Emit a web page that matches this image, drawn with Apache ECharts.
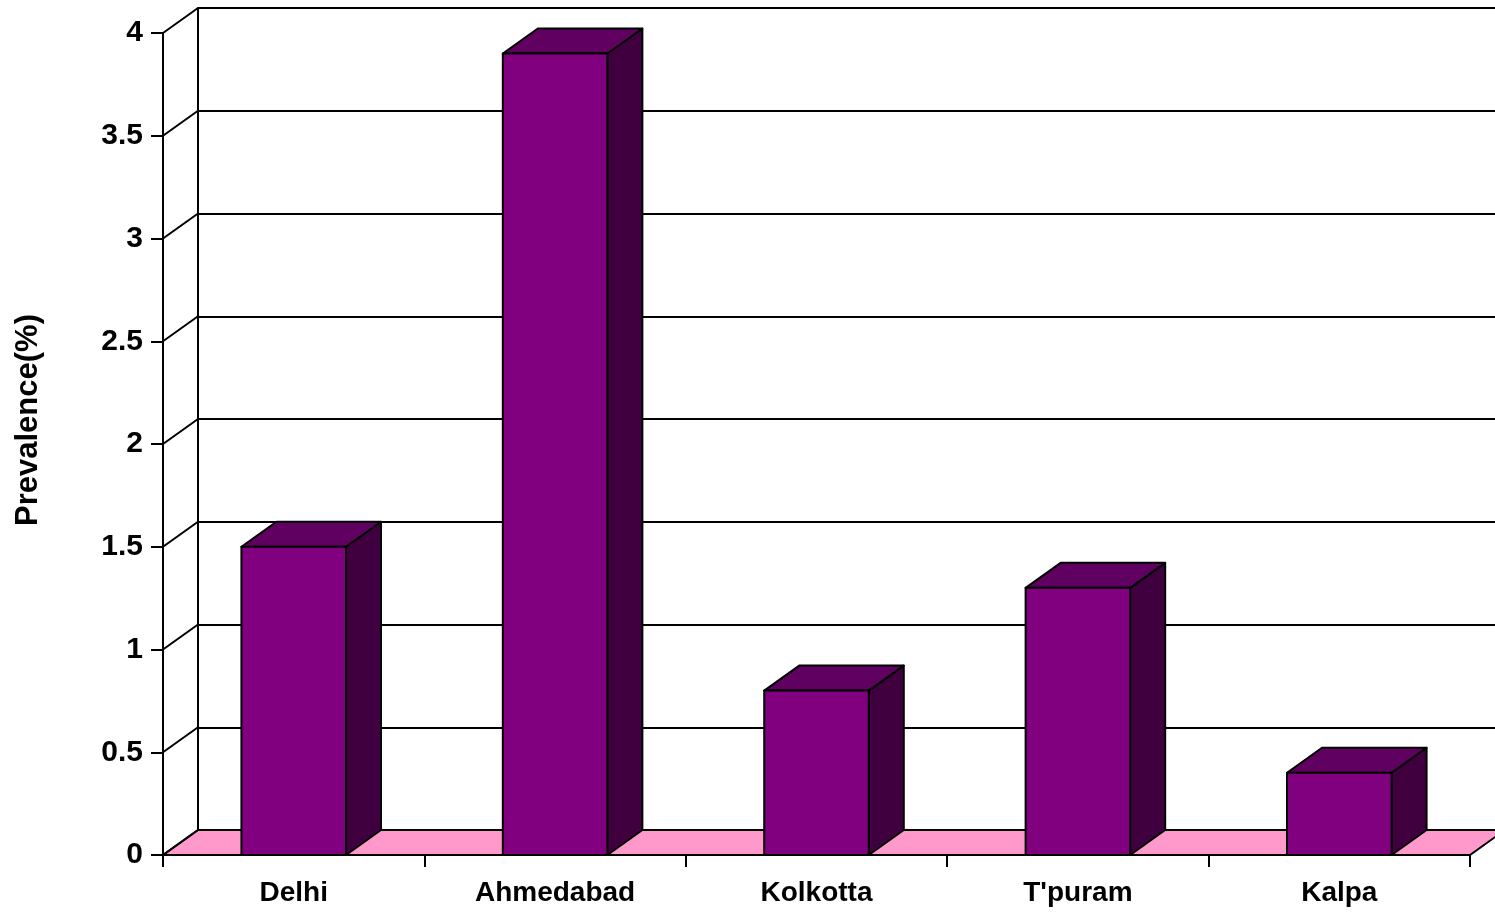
<!DOCTYPE html>
<html>
<head>
<meta charset="utf-8">
<script src="https://cdn.jsdelivr.net/npm/echarts@6/dist/echarts.min.js"></script>
<style>
html,body{margin:0;padding:0;background:#fff;}
#chart{width:1495px;height:914px;}
</style>
</head>
<body>
<div id="chart"></div>
<script>
const categories = ['Delhi', 'Ahmedabad', 'Kolkotta', "T'puram", 'Kalpa'];
const prevalence = [1.5, 3.9, 0.8, 1.3, 0.4];
const yTicks = [0, 0.5, 1, 1.5, 2, 2.5, 3, 3.5, 4];
const yName = 'Prevalence(%)';

const DX = 35, DY = -25;
const FONT = '"Liberation Sans", Arial, sans-serif';

const chart = echarts.init(document.getElementById('chart'), null, {renderer: 'canvas'});

const option = {
  backgroundColor: '#ffffff',
  animation: false,
  grid: [
    {left: 163, top: 33, width: 1307, height: 822},
    {left: 198, top: 8, width: 1307, height: 822}
  ],
  xAxis: [
    {
      type: 'category', gridIndex: 0, data: categories,
      axisLine: {show: true, lineStyle: {color: '#000', width: 2}},
      axisTick: {show: true, length: 12, lineStyle: {color: '#000', width: 2}},
      axisLabel: {color: '#000', fontFamily: FONT, fontWeight: 'bold', fontSize: 28, margin: 24},
      splitLine: {show: false}
    },
    {
      type: 'category', gridIndex: 1, data: categories, show: false
    }
  ],
  yAxis: [
    {
      type: 'value', gridIndex: 0, min: 0, max: 4, interval: 0.5,
      name: yName, nameLocation: 'middle', nameRotate: 90, nameGap: 119,
      nameTextStyle: {color: '#000', fontFamily: FONT, fontWeight: 'bold', fontSize: 31, padding: [0, 0, 0, 48]},
      axisLine: {show: true, lineStyle: {color: '#000', width: 2}},
      axisTick: {show: true, length: 12, lineStyle: {color: '#000', width: 2}},
      axisLabel: {color: '#000', fontFamily: FONT, fontWeight: 'bold', fontSize: 30, margin: 20},
      splitLine: {show: false}
    },
    {
      type: 'value', gridIndex: 1, min: 0, max: 4, interval: 0.5,
      axisLine: {show: true, lineStyle: {color: '#000', width: 2}},
      axisTick: {show: false},
      axisLabel: {show: false},
      splitLine: {show: true, lineStyle: {color: '#000', width: 2}}
    }
  ],
  series: [
    {
      // floor
      type: 'custom', xAxisIndex: 0, yAxisIndex: 0, z: 2, silent: true,
      data: [[0, 0]],
      encode: {x: 0, y: 1},
      renderItem: function (params, api) {
        const cs = params.coordSys;
        const y0 = api.coord([0, 0])[1];
        const x0 = cs.x, x1 = cs.x + cs.width;
        return {
          type: 'polygon',
          shape: {points: [[x0, y0], [x1, y0], [x1 + DX, y0 + DY], [x0 + DX, y0 + DY]]},
          style: {fill: '#FF99CC', stroke: '#000', lineWidth: 2}
        };
      }
    },
    {
      // side wall diagonals
      type: 'custom', xAxisIndex: 0, yAxisIndex: 0, z: 3, silent: true,
      data: yTicks.map(v => [0, v]),
      encode: {x: 0, y: 1},
      renderItem: function (params, api) {
        const cs = params.coordSys;
        const y = api.coord([0, api.value(1)])[1];
        return {
          type: 'line',
          shape: {x1: cs.x, y1: y, x2: cs.x + DX, y2: y + DY},
          style: {stroke: '#000', lineWidth: 2}
        };
      }
    },
    {
      // bars
      type: 'custom', xAxisIndex: 0, yAxisIndex: 0, z: 5,
      data: categories.map((c, i) => [i, prevalence[i]]),
      encode: {x: 0, y: 1},
      renderItem: function (params, api) {
        const top = api.coord([api.value(0), api.value(1)]);
        const base = api.coord([api.value(0), 0]);
        const w = api.size([1, 0])[0] * 0.4;
        const x0 = top[0] - w / 2, x1 = top[0] + w / 2;
        const yT = top[1], yB = base[1];
        const st = {stroke: '#000', lineWidth: 2, lineJoin: 'round'};
        return {
          type: 'group',
          children: [
            {type: 'polygon', shape: {points: [[x1, yT], [x1 + DX, yT + DY], [x1 + DX, yB + DY], [x1, yB]]},
             style: Object.assign({fill: '#400040'}, st)},
            {type: 'polygon', shape: {points: [[x0, yT], [x1, yT], [x1 + DX, yT + DY], [x0 + DX, yT + DY]]},
             style: Object.assign({fill: '#600060'}, st)},
            {type: 'rect', shape: {x: x0, y: yT, width: w, height: yB - yT},
             style: Object.assign({fill: '#800080'}, st)}
          ]
        };
      }
    }
  ]
};

chart.setOption(option);
</script>
</body>
</html>
